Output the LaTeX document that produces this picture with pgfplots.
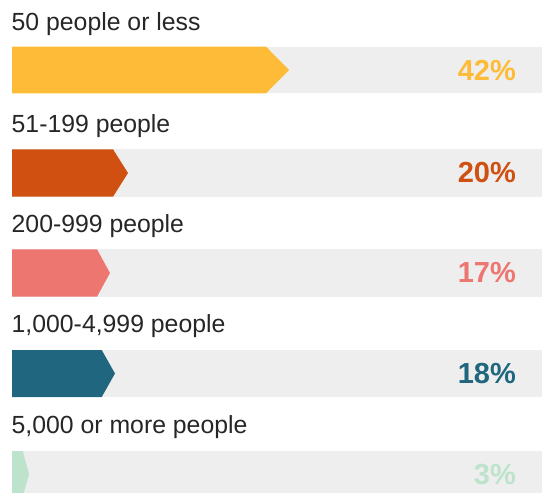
\documentclass[border=0pt]{standalone}
\usepackage{fontspec}
\setmainfont{Liberation Sans}
\usepackage{pgfplots}
\pgfplotsset{compat=1.18}
\definecolor{cA}{HTML}{FDBB37}
\definecolor{cB}{HTML}{CF5011}
\definecolor{cC}{HTML}{EE7671}
\definecolor{cD}{HTML}{20667E}
\definecolor{cE}{HTML}{BDE3CD}
\definecolor{bg}{HTML}{EEEEEE}
\definecolor{txt}{HTML}{262626}
\tikzset{
  lbl/.style={anchor=base west, inner sep=0pt, text=txt, font=\fontsize{24.8bp}{29bp}\selectfont},
  pct/.style={anchor=base east, inner sep=0pt, font=\fontsize{29bp}{34bp}\selectfont\bfseries},
}
\begin{document}
\begin{tikzpicture}
\begin{axis}[
  width=549bp, height=493bp, scale only axis,
  xmin=0, xmax=549, ymin=0, ymax=493, y dir=reverse,
  hide axis, clip=true,
]
% grey background tracks
\addplot[fill=bg, draw=none] coordinates {(12,46.7) (542,46.7) (542,93.3) (12,93.3)} --cycle;
\addplot[fill=bg, draw=none] coordinates {(12,149.3) (542,149.3) (542,196.7) (12,196.7)} --cycle;
\addplot[fill=bg, draw=none] coordinates {(12,249.3) (542,249.3) (542,296.7) (12,296.7)} --cycle;
\addplot[fill=bg, draw=none] coordinates {(12,350) (542,350) (542,397) (12,397)} --cycle;
\addplot[fill=bg, draw=none] coordinates {(12,451) (542,451) (542,497) (12,497)} --cycle;
% arrow bars (42%, 20%, 17%, 18%, 3%)
\addplot[fill=cA, draw=none] coordinates {(12,46.7) (266,46.7) (289,70) (266,93.3) (12,93.3)} --cycle;
\addplot[fill=cB, draw=none] coordinates {(12,149.3) (113,149.3) (128,173) (113,196.7) (12,196.7)} --cycle;
\addplot[fill=cC, draw=none] coordinates {(12,249.3) (97,249.3) (110,273) (97,296.7) (12,296.7)} --cycle;
\addplot[fill=cD, draw=none] coordinates {(12,350) (101.7,350) (115,373.5) (101.7,397) (12,397)} --cycle;
\addplot[fill=cE, draw=none] coordinates {(12,451) (22.7,451) (29,474) (22.7,497) (12,497)} --cycle;
% category labels
\node[lbl] at (axis cs:11.5,30.5) {50 people or less};
\node[lbl] at (axis cs:11.5,132.3) {51-199 people};
\node[lbl] at (axis cs:11.5,232.3) {200-999 people};
\node[lbl] at (axis cs:11.5,332) {1,000-4,999 people};
\node[lbl] at (axis cs:11.5,433.3) {5,000 or more people};
% value labels
\node[pct, text=cA] at (axis cs:516,80.5) {42\%};
\node[pct, text=cB] at (axis cs:516,182) {20\%};
\node[pct, text=cC] at (axis cs:516,282.5) {17\%};
\node[pct, text=cD] at (axis cs:516,383.3) {18\%};
\node[pct, text=cE] at (axis cs:516,484) {3\%};
\end{axis}
\pgfresetboundingbox
\path (current axis.south west) rectangle (current axis.north east);
\end{tikzpicture}
\end{document}
